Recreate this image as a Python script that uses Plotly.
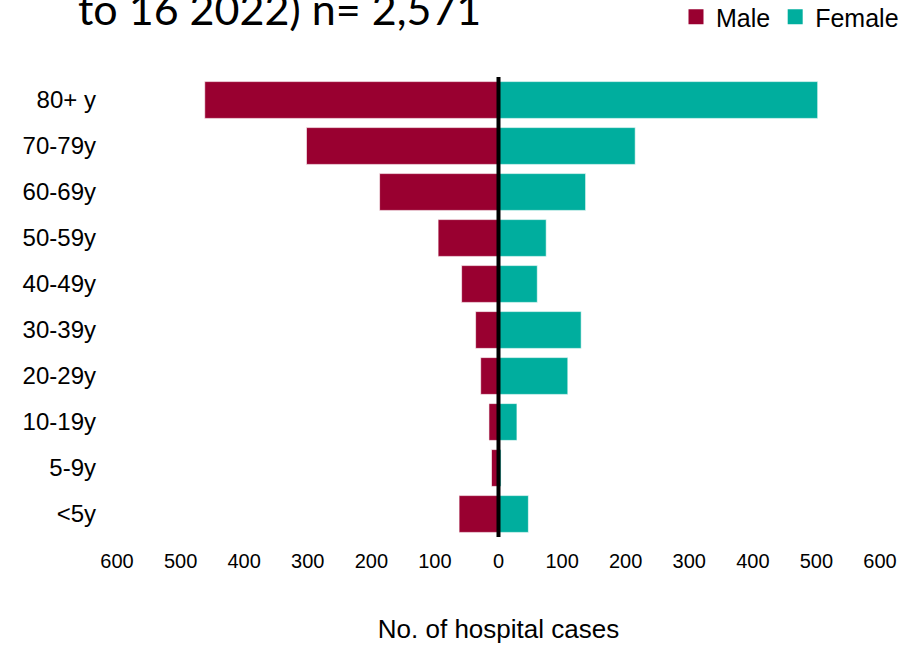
import plotly.graph_objects as go

# Age bands, bottom to top
age_groups = ["<5y", "5-9y", "10-19y", "20-29y", "30-39y",
              "40-49y", "50-59y", "60-69y", "70-79y", "80+ y"]
male_cases = [62, 11, 15, 28, 36, 58, 95, 187, 302, 462]
female_cases = [47, 4, 29, 109, 130, 61, 75, 137, 215, 502]

tick_values = [-600, -500, -400, -300, -200, -100, 0, 100, 200, 300, 400, 500, 600]
tick_text = [str(abs(v)) for v in tick_values]

MALE_COLOR = "#990030"
FEMALE_COLOR = "#00AE9E"
FONT = "Liberation Sans, Arial, sans-serif"
EDGE = dict(color="rgba(255,255,255,0.6)", width=1)

fig = go.Figure()
fig.add_trace(go.Bar(
    y=age_groups, x=[-v for v in male_cases], orientation="h", name="Male",
    marker=dict(color=MALE_COLOR, line=EDGE), showlegend=False,
    customdata=male_cases, hovertemplate="%{y}: %{customdata}<extra>Male</extra>",
))
fig.add_trace(go.Bar(
    y=age_groups, x=female_cases, orientation="h", name="Female",
    marker=dict(color=FEMALE_COLOR, line=EDGE), showlegend=False,
    hovertemplate="%{y}: %{x}<extra>Female</extra>",
))

# Legend keys as plain squares
for name, color in [("Male", MALE_COLOR), ("Female", FEMALE_COLOR)]:
    fig.add_trace(go.Scatter(
        x=[None], y=[None], mode="markers", name=name,
        marker=dict(symbol="square", size=15, color=color), hoverinfo="skip",
    ))

# Central axis line drawn over the bars
fig.add_shape(type="line", xref="x", yref="paper", x0=0, x1=0, y0=0, y1=1,
              line=dict(color="black", width=4), layer="above")

fig.add_annotation(
    text="to 16 2022) n= 2,571", xref="paper", yref="paper",
    x=(76 - 117) / 763, y=1 + (77 - 8) / 460, xanchor="left", yanchor="middle",
    showarrow=False, font=dict(family="Lato, Carlito, sans-serif", size=43, color="black"),
)

fig.update_layout(
    width=916, height=646,
    margin=dict(l=117, r=36, t=77, b=109),
    paper_bgcolor="white", plot_bgcolor="white",
    barmode="relative", bargap=0.2,
    font=dict(family=FONT, color="black"),
    showlegend=True,
    legend=dict(orientation="h", xref="container", yref="container",
                x=904 / 916, xanchor="right", y=1 - 17 / 646, yanchor="middle",
                font=dict(size=25, family=FONT), itemwidth=30,
                traceorder="normal", bgcolor="rgba(0,0,0,0)"),
    xaxis=dict(range=[-600, 600], tickvals=tick_values, ticktext=tick_text,
               showgrid=False, zeroline=False, showline=False, ticks="",
               tickfont=dict(size=20), ticklabelstandoff=10, automargin=False,
               title=dict(text="No. of hospital cases", font=dict(size=26), standoff=48)),
    yaxis=dict(categoryorder="array", categoryarray=age_groups,
               showgrid=False, zeroline=False, showline=False, ticks="",
               tickfont=dict(size=24), ticklabelstandoff=20, automargin=False),
)

fig.write_html("out.html")
